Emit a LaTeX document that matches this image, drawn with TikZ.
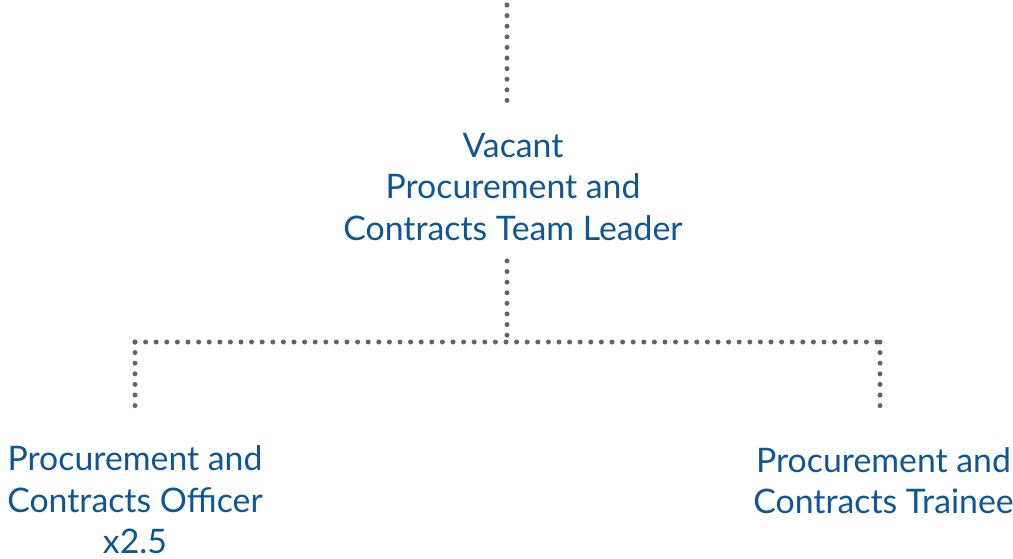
\documentclass[tikz,border=0pt]{standalone}
\usepackage{fontspec}
\setmainfont{Lato}
\usetikzlibrary{calc}
\definecolor{tblue}{RGB}{14,86,152}
\definecolor{dotgray}{RGB}{100,100,100}
\tikzset{
  role/.style={text=tblue, align=center, inner sep=0pt,
    font=\fontsize{33.8}{41.5}\selectfont},
  dotline/.style={draw=dotgray, line width=5pt, line cap=round,
    dash pattern=on 0pt off 10.6pt}
}
\begin{document}
\begin{tikzpicture}[x=1pt,y=-1pt]
\useasboundingbox (0,0) rectangle (1013,558);
\node[role] (lead) at (513,187) {Vacant\\Procurement and\\Contracts Team Leader};
\node[role] (off) at (135,500) {Procurement and\\Contracts Officer\\x2.5};
\node[role] (tr) at (883.5,480.5) {Procurement and\\Contracts Trainee};
\coordinate (top) at (507,5);
\coordinate (j) at (507,342);
\coordinate (lc) at (135,342);
\coordinate (rc) at (880,342);
\draw[dotline] (top) -- ($(top |- lead.north)+(0,-24)$);
\draw[dotline] ($(j |- lead.south)+(0,20)$) -- (j);
\draw[dotline] (lc) -- (rc);
\draw[dotline] (lc) -- ($(lc |- off.north)+(0,-39)$);
\draw[dotline] (rc) -- ($(rc |- tr.north)+(0,-40)$);
\end{tikzpicture}
\end{document}
